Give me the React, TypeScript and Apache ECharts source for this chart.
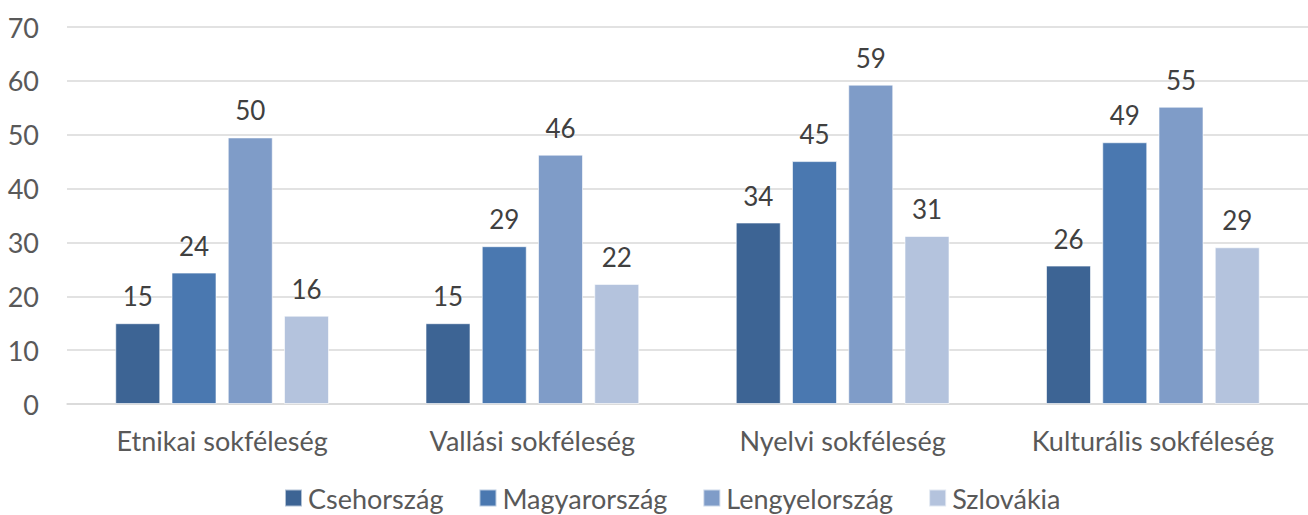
import React, { useEffect, useRef } from "react";
import * as echarts from "echarts";

const categories = ["Etnikai sokféleség", "Vallási sokféleség", "Nyelvi sokféleség", "Kulturális sokféleség"];
const seriesNames = ["Csehország", "Magyarország", "Lengyelország", "Szlovákia"];
const cseh = [15.0, 15.0, 33.7, 25.7];
const magyar = [24.4, 29.3, 45.1, 48.6];
const lengyel = [49.5, 46.3, 59.3, 55.2];
const szlovakia = [16.4, 22.3, 31.2, 29.1];
const colors = ["#3D6494", "#4A78B0", "#7F9CC8", "#B4C3DD"];
const yTicks = { min: 0, max: 70, interval: 10 };

const FONT = "Lato, 'Liberation Sans', sans-serif";

export default function App() {
  const ref = useRef<HTMLDivElement>(null);
  useEffect(() => {
    if (!ref.current) return;
    const chart = echarts.init(ref.current, undefined, { renderer: "svg" });
    const values = [cseh, magyar, lengyel, szlovakia];
    chart.setOption({
      animation: false,
      color: colors,
      textStyle: { fontFamily: FONT },
      grid: { left: 67, top: 27, width: 1251, height: 377 },
      legend: {
        show: true,
        top: 483,
        left: 284,
        padding: 0,
        itemWidth: 17,
        itemHeight: 17,
        itemGap: 35,
        icon: "rect",
        textStyle: { fontFamily: FONT, fontSize: 27, lineHeight: 30, color: "#595959", padding: [0, 0, 0, 1] },
        data: seriesNames,
      },
      xAxis: {
        type: "category",
        data: categories,
        axisLine: { show: true, lineStyle: { color: "#D9D9D9", width: 1.5 } },
        axisTick: { show: false },
        axisLabel: { interval: 0, fontFamily: FONT, fontSize: 27, color: "#595959", margin: 23 },
      },
      yAxis: {
        type: "value",
        min: yTicks.min,
        max: yTicks.max,
        interval: yTicks.interval,
        axisLine: { show: false },
        axisTick: { show: false },
        splitLine: { lineStyle: { color: "#D9D9D9", width: 1.5 } },
        axisLabel: { fontFamily: FONT, fontSize: 27, color: "#595959", margin: 28 },
      },
      series: values.map((v, i) => ({
        name: seriesNames[i],
        type: "bar",
        data: v,
        barWidth: 45,
        barGap: "25%",
        itemStyle: { color: colors[i], borderColor: "rgba(255,255,255,0.6)", borderWidth: 1 },
        label: {
          show: true,
          position: "top",
          distance: 14,
          fontFamily: FONT,
          fontSize: 26,
          color: "#404040",
          formatter: (p: any) => String(Math.round(p.value)),
        },
      })),
    });
    return () => chart.dispose();
  }, []);
  return (
    <div
      ref={ref}
      style={{ position: "absolute", left: 0, top: 0, width: 1308, height: 515, background: "#fff" }}
    />
  );
}
